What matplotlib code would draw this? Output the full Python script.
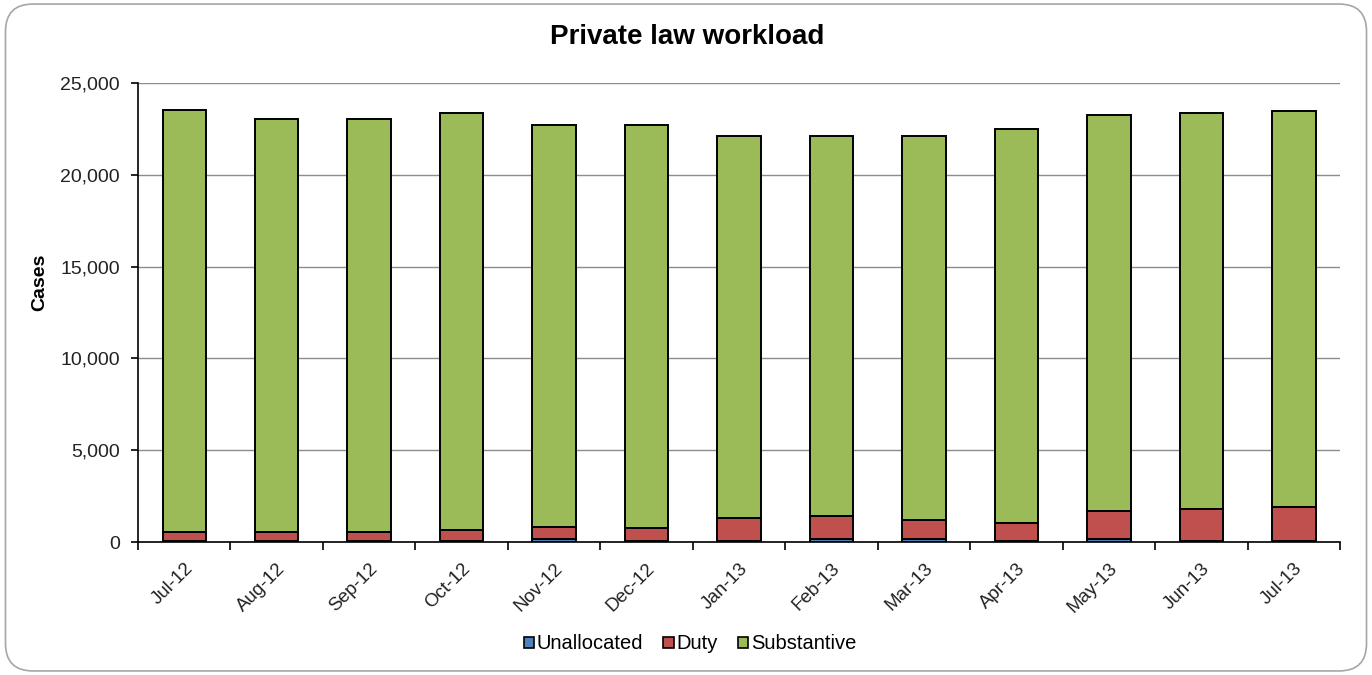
import matplotlib
matplotlib.use("Agg")
import matplotlib.pyplot as plt
from matplotlib.patches import FancyBboxPatch, Patch
from matplotlib.ticker import FuncFormatter
import numpy as np

plt.rcParams['font.family'] = ['Liberation Sans', 'DejaVu Sans']

months = ["Jul-12", "Aug-12", "Sep-12", "Oct-12", "Nov-12", "Dec-12", "Jan-13",
          "Feb-13", "Mar-13", "Apr-13", "May-13", "Jun-13", "Jul-13"]
unallocated = [50, 50, 50, 50, 150, 50, 80, 150, 150, 60, 150, 60, 60]
duty = [480, 480, 500, 600, 680, 700, 1230, 1280, 1050, 960, 1540, 1740, 1830]
substantive = [23000, 22510, 22490, 22720, 21880, 21960, 20800, 20680, 20910, 21470, 21570, 21570, 21585]

fig = plt.figure(figsize=(13.72, 6.75), dpi=100)
border = FancyBboxPatch((0.004, 0.006), 0.992, 0.988, boxstyle="round,pad=0,rounding_size=0.02",
                        transform=fig.transFigure, facecolor='none', edgecolor='#a6a6a6', linewidth=1.2,
                        mutation_aspect=1372/675, zorder=-1)
fig.patches.append(border)

ax = fig.add_axes([0.1006, 0.197, 0.8761, 0.680])
x = np.arange(len(months))
w = 0.47
u = np.array(unallocated); d = np.array(duty); s = np.array(substantive)
ax.bar(x, u, w, color='#4f81bd', edgecolor='black', linewidth=1.4, label='Unallocated', zorder=3)
ax.bar(x, d, w, bottom=u, color='#c0504d', edgecolor='black', linewidth=1.4, label='Duty', zorder=3)
ax.bar(x, s, w, bottom=u + d, color='#9bbb59', edgecolor='black', linewidth=1.4, label='Substantive', zorder=3)

ax.set_xlim(-0.5, len(months) - 0.5)
ax.set_ylim(0, 25000)
ax.set_yticks(np.arange(0, 25001, 5000))
ax.yaxis.set_major_formatter(FuncFormatter(lambda v, p: f"{int(v):,}"))
ax.yaxis.grid(True, color='#8c8c8c', linewidth=1.0, zorder=0)
ax.set_axisbelow(True)
ax.set_xticks(x)
ax.set_xticklabels(months, rotation=45, ha='right', rotation_mode='anchor', fontsize=13.5, color='#222222')
ax.set_xticks(np.arange(-0.5, len(months), 1), minor=True)
ax.tick_params(axis='x', which='major', length=0, pad=13)
ax.tick_params(axis='x', which='minor', length=6, width=1.2, direction='out', color='black')
ax.tick_params(axis='y', length=5, width=1.2, direction='out', labelsize=14, pad=8, labelcolor='#222222')
for sp in ['top', 'right']:
    ax.spines[sp].set_visible(False)
ax.spines['left'].set_linewidth(1.2)
ax.spines['bottom'].set_linewidth(1.2)
ax.set_ylabel("Cases", fontsize=14, fontweight='bold')
ax.yaxis.set_label_coords(-0.075, 0.565)

fig.text(0.501, 0.945, "Private law workload", ha='center', va='center', fontsize=20, fontweight='bold')

handles = [Patch(facecolor=c, edgecolor='black', linewidth=1.2) for c in ['#4f81bd', '#c0504d', '#9bbb59']]
fig.legend(handles, ['Unallocated', 'Duty', 'Substantive'], loc='center', bbox_to_anchor=(0.503, 0.046),
           ncol=3, frameon=False, handlelength=0.5, handleheight=0.5,
           handletextpad=0.15, columnspacing=1.0, prop={'size': 14.5})

fig.savefig("out.png", dpi=100, facecolor='white')
